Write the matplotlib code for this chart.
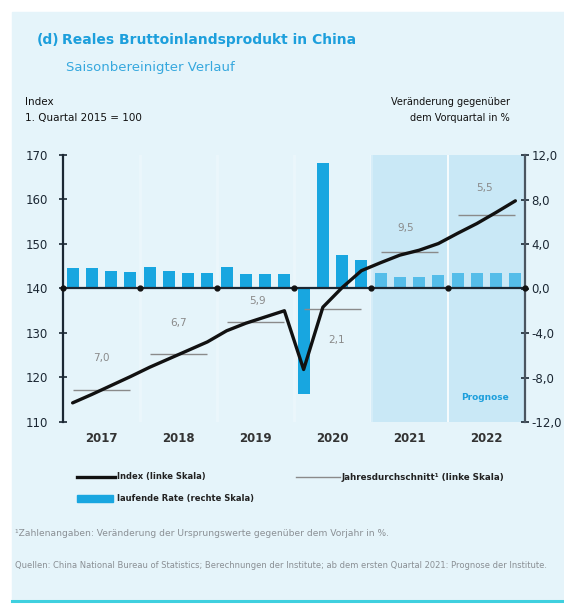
import matplotlib
matplotlib.use("Agg")
import matplotlib.pyplot as plt
from matplotlib.patches import Rectangle
from matplotlib.lines import Line2D

# Data: quarters 2017 Q1 .. 2022 Q4 (2021/2022 = Prognose)
years = ["2017", "2018", "2019", "2020", "2021", "2022"]
index_values = [114.3, 116.2, 118.2, 120.2,
                122.3, 124.2, 126.1, 128.0,
                130.5, 132.2, 133.6, 135.0,
                121.8, 135.8, 140.2, 144.0,
                145.8, 147.5, 148.6, 150.1,
                152.4, 154.6, 157.1, 159.7]
qoq_rate = [1.8, 1.8, 1.6, 1.5,
            1.9, 1.6, 1.4, 1.4,
            1.9, 1.3, 1.3, 1.3,
            -9.5, 11.3, 3.0, 2.6,
            1.4, 1.0, 1.0, 1.2,
            1.4, 1.4, 1.4, 1.4]
annual_avg = [117.3, 125.2, 132.5, 135.4, 148.3, 156.5]
annual_growth = ["7,0", "6,7", "5,9", "2,1", "9,5", "5,5"]
n_forecast = 8

# label offsets (layout only)
label_dx = [0.0, 0.0, 0.1, 0.2, -0.2, -0.1]
label_dy = [7.0, 7.0, 4.7, -7.0, 5.3, 6.0]

W, H = 564, 606
PANEL = "#e5f4fa"
SHADE = "#c9e8f6"
BAR = "#18a6e0"
BAR_FC = "#55bde9"
BLUE = "#1d9fdc"
GREY = "#8a8a8a"


def fx(x):
    return x / W


def fy(y):
    return 1 - y / H


fig = plt.figure(figsize=(W / 100, H / 100), dpi=100)
fig.patch.set_facecolor("white")
fig.add_artist(Rectangle((fx(12), fy(601)), 1 - fx(12), (601 - 12) / H,
                         transform=fig.transFigure, color=PANEL, zorder=-10))

ax = fig.add_axes([fx(63), fy(422), (525 - 63) / W, (422 - 155) / H])
ax2 = ax.twinx()
ax.set_zorder(ax2.get_zorder() + 1)
ax.patch.set_visible(False)
ax2.patch.set_visible(False)

n = len(index_values)
xc = [i + 0.5 for i in range(n)]

# right scale: shading and bars
ax2.axvspan(n - n_forecast, n - 4, color=SHADE, lw=0, zorder=0)
ax2.axvspan(n - 4, n, color=SHADE, lw=0, zorder=0)
ax2.axvline(n - 4, color="white", lw=1.2, zorder=0.5)
for b in range(4, n - n_forecast + 1, 4):
    ax2.axvline(b, color="white", lw=2, alpha=0.25, zorder=0.2)
colors = [BAR] * (n - n_forecast) + [BAR_FC] * n_forecast
ax2.bar(xc, qoq_rate, width=0.62, color=colors, zorder=2)
ax2.set_ylim(-12, 12)
ax2.set_yticks(range(-12, 13, 4))
ax2.set_yticklabels([f"{v:.1f}".replace(".", ",") for v in range(-12, 13, 4)])

# left scale: index, annual averages
ax.set_xlim(0, n)
ax.set_ylim(110, 170)
ax.set_yticks(range(110, 171, 10))
ax.axhline(140, color="#1b2733", lw=1.6, zorder=3)
ax.plot(range(0, n + 1, 4), [140] * (n // 4 + 1), "o", ms=3.5, color="#111111",
        zorder=3, clip_on=False)
for i, lvl in enumerate(annual_avg):
    ax.hlines(lvl, 4 * i + 0.5, 4 * i + 3.5, color=GREY, lw=1.0, zorder=4)
    ax.text(4 * i + 2 + label_dx[i], lvl + label_dy[i], annual_growth[i],
            ha="center", va="center", color=GREY, fontsize=7.5)
ax.plot(xc, index_values, color="#111111", lw=2.4, zorder=5,
        solid_joinstyle="round", solid_capstyle="round")
ax.text(21.9, 115.6, "Prognose", color=BLUE, fontsize=6.5, fontweight="bold",
        ha="center", va="center")

ax.set_xticks([4 * i + 2 for i in range(len(years))])
ax.set_xticklabels(years, fontsize=8.5, fontweight="bold", color="#333333")
ax.tick_params(axis="x", length=0, pad=7)

for s in ["top", "right", "bottom"]:
    ax.spines[s].set_visible(False)
for s in ["top", "left", "bottom"]:
    ax2.spines[s].set_visible(False)
ax.spines["left"].set_color("#1b2733")
ax.spines["left"].set_linewidth(1.6)
ax2.spines["right"].set_color("#4a5560")
ax2.spines["right"].set_linewidth(1.6)
ax.tick_params(axis="y", direction="inout", length=6, width=1.2,
               labelsize=8.5, pad=8, colors="#1b2733")
ax2.tick_params(axis="y", direction="inout", length=6, width=1.2,
                labelsize=8.5, pad=1.5, colors="#1b2733")

# header
fig.text(fx(37), fy(40), "(d)", color=BLUE, fontsize=10, fontweight="bold", va="center")
fig.text(fx(62), fy(40), "Reales Bruttoinlandsprodukt in China", color=BLUE,
         fontsize=10, fontweight="bold", va="center")
fig.text(fx(66), fy(67), "Saisonbereinigter Verlauf", color="#36a8de",
         fontsize=9.5, va="center")
fig.text(fx(25), fy(102), "Index", fontsize=7.5, va="center", color="#111111")
fig.text(fx(25), fy(118), "1. Quartal 2015 = 100", fontsize=7.5, va="center", color="#111111")
fig.text(fx(510), fy(102), "Veränderung gegenüber", fontsize=7, va="center",
         ha="right", color="#111111")
fig.text(fx(510), fy(118), "dem Vorquartal in %", fontsize=7, va="center",
         ha="right", color="#111111")

# legend
fig.add_artist(Line2D([fx(77), fx(115)], [fy(477), fy(477)], color="#111111", lw=2.4))
fig.text(fx(117), fy(477), "Index (linke Skala)", fontsize=6, fontweight="bold",
         va="center", color="#222222")
fig.add_artist(Line2D([fx(296), fx(340)], [fy(477), fy(477)], color=GREY, lw=1.0))
fig.text(fx(342), fy(477), "Jahresdurchschnitt¹ (linke Skala)", fontsize=6.3,
         fontweight="bold", va="center", color="#222222")
fig.add_artist(Rectangle((fx(77), fy(502)), fx(113) - fx(77), 7 / H,
                         transform=fig.transFigure, color=BAR))
fig.text(fx(117), fy(498), "laufende Rate (rechte Skala)", fontsize=6,
         fontweight="bold", va="center", color="#222222")

# notes
fig.text(fx(15), fy(533), "¹Zahlenangaben: Veränderung der Ursprungswerte gegenüber dem Vorjahr in %.",
         fontsize=6.6, va="center", color="#8a8f94")
fig.text(fx(15), fy(565), "Quellen: China National Bureau of Statistics; Berechnungen der Institute; "
         "ab dem ersten Quartal 2021: Prognose der Institute.",
         fontsize=6.0, va="center", color="#8a8f94")
fig.add_artist(Line2D([fx(12), 1], [fy(601), fy(601)], color="#3fd0df", lw=2.2))

fig.savefig("out.png", dpi=100)
